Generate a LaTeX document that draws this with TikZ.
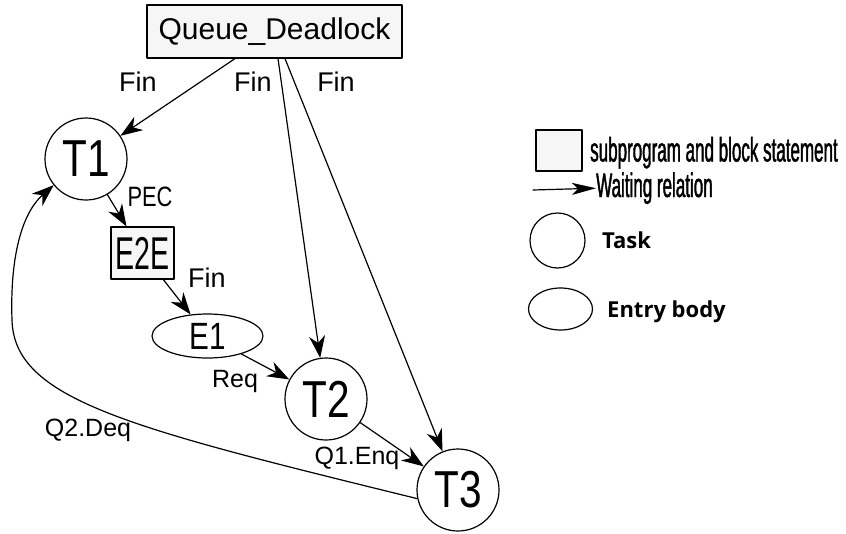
\documentclass[tikz,border=0pt]{standalone}
\usepackage{fontspec}
\setmainfont{Liberation Sans}
\newfontfamily\narrowfont[FakeStretch=0.78]{Liberation Sans}
\newfontfamily\squeezefont[FakeStretch=0.62]{Liberation Sans}
\newfontfamily\legendfont[FakeStretch=0.5,FakeBold=1.2]{Liberation Sans}
\newfontfamily\keyfont{Open Sans}
\usetikzlibrary{arrows.meta,positioning,shapes.geometric}
\definecolor{boxfill}{HTML}{F6F6F6}
\definecolor{ink}{HTML}{000000}
\tikzset{
    every picture/.style={line cap=round,line join=round},
    blockbox/.style={draw=ink,fill=boxfill,line width=1.2pt,inner sep=0pt},
    tasknode/.style={draw=ink,circle,line width=1.2pt,minimum size=82pt,inner sep=0pt,
      font=\narrowfont\fontsize{52}{52}\selectfont},
    entrynode/.style={draw=ink,ellipse,line width=1.2pt,minimum width=111pt,minimum height=44pt,
      inner sep=0pt,font=\narrowfont\fontsize{38}{38}\selectfont},
    waitarrow/.style={-{Stealth[length=22pt,width=16pt,inset=7pt]},draw=ink,line width=1.2pt},
    keyarrow/.style={-{Stealth[length=24pt,width=12pt,inset=6pt]},draw=ink,line width=1.2pt},
    edgelabel/.style={anchor=base,inner sep=0pt,text=ink,font=\fontsize{25}{25}\selectfont},
    finlabel/.style={edgelabel,font=\fontsize{27}{27}\selectfont},
    keytext/.style={anchor=base west,inner sep=0pt,text=ink}
}

\begin{document}
\begin{tikzpicture}[x=1pt,y=-1pt]
  \useasboundingbox (0,0) rectangle (846,533);
  % nodes of the graph
  \node[blockbox,minimum width=255pt,minimum height=53pt,font=\fontsize{30}{30}\selectfont] (qd) at (274.5,31.5) {Queue\_Deadlock};
  \node[tasknode] (t1) at (86,159) {T1};
  \node[blockbox,minimum width=63pt,minimum height=52pt,font=\squeezefont\fontsize{46}{46}\selectfont] (e2e) at (142.5,253) {E2E};
  \node[entrynode] (e1) at (207.5,336) {E1};
  \node[tasknode] (t2) at (326,399) {T2};
  \node[tasknode] (t3) at (458,490) {T3};
  % waiting relations
  \draw[waitarrow] ([xshift=-39.5pt]qd.south) -- (t1);
  \draw[waitarrow] ([xshift=3.5pt]qd.south) -- (t2);
  \draw[waitarrow] ([xshift=10.5pt]qd.south) -- (t3);
  \draw[waitarrow] (t1) -- (e2e);
  \draw[waitarrow] (e2e) -- (e1);
  \draw[waitarrow] (e1) -- (t2);
  \draw[waitarrow] (t2) -- (t3);
  \draw[waitarrow] (t3.192) .. controls (130,428) and (14,400) .. (12,320)
    .. controls (10,262) and (20,215) .. (t1.219);
  % labels
  \node[finlabel] (fin1) at (138,91) {Fin};
  \node[finlabel] (fin2) at (253,91.5) {Fin};
  \node[finlabel] (fin3) at (336,91) {Fin};
  \node[finlabel] (fin4) at (207,287) {Fin};
  \node[edgelabel,font=\narrowfont\fontsize{28}{28}\selectfont] (pec) at (150,206) {PEC};
  \node[edgelabel] (req) at (235,387) {Req};
  \node[edgelabel] (enq) at (357,464) {Q1.Enq};
  \node[edgelabel] (deq) at (88,436) {Q2.Deq};
  % legend
  \node[blockbox,minimum width=46pt,minimum height=41pt] (keybox) at (559,150.5) {};
  \node[keytext,font=\legendfont\fontsize{34}{34}\selectfont] (keyboxtext) at (590,161.5) {subprogram and block statement};
  \coordinate (keytail) at (533,190);
  \node[keytext,font=\legendfont\fontsize{34}{34}\selectfont] (waittext) at (596,197) {Waiting relation};
  \draw[keyarrow] (keytail) -- (waittext.west);
  \node[draw=ink,circle,line width=1.2pt,minimum size=55pt,inner sep=0pt] (keytask) at (557.5,240.5) {};
  \node[keytext,font=\keyfont\bfseries\fontsize{22}{22}\selectfont] (tasktext) at (602,248) {Task};
  \node[draw=ink,ellipse,line width=1.2pt,minimum width=64pt,minimum height=42pt,inner sep=0pt] (keyentry) at (560.5,309) {};
  \node[keytext,font=\keyfont\bfseries\fontsize{22}{22}\selectfont] (entrytext) at (607,317) {Entry body};
\end{tikzpicture}
\end{document}
